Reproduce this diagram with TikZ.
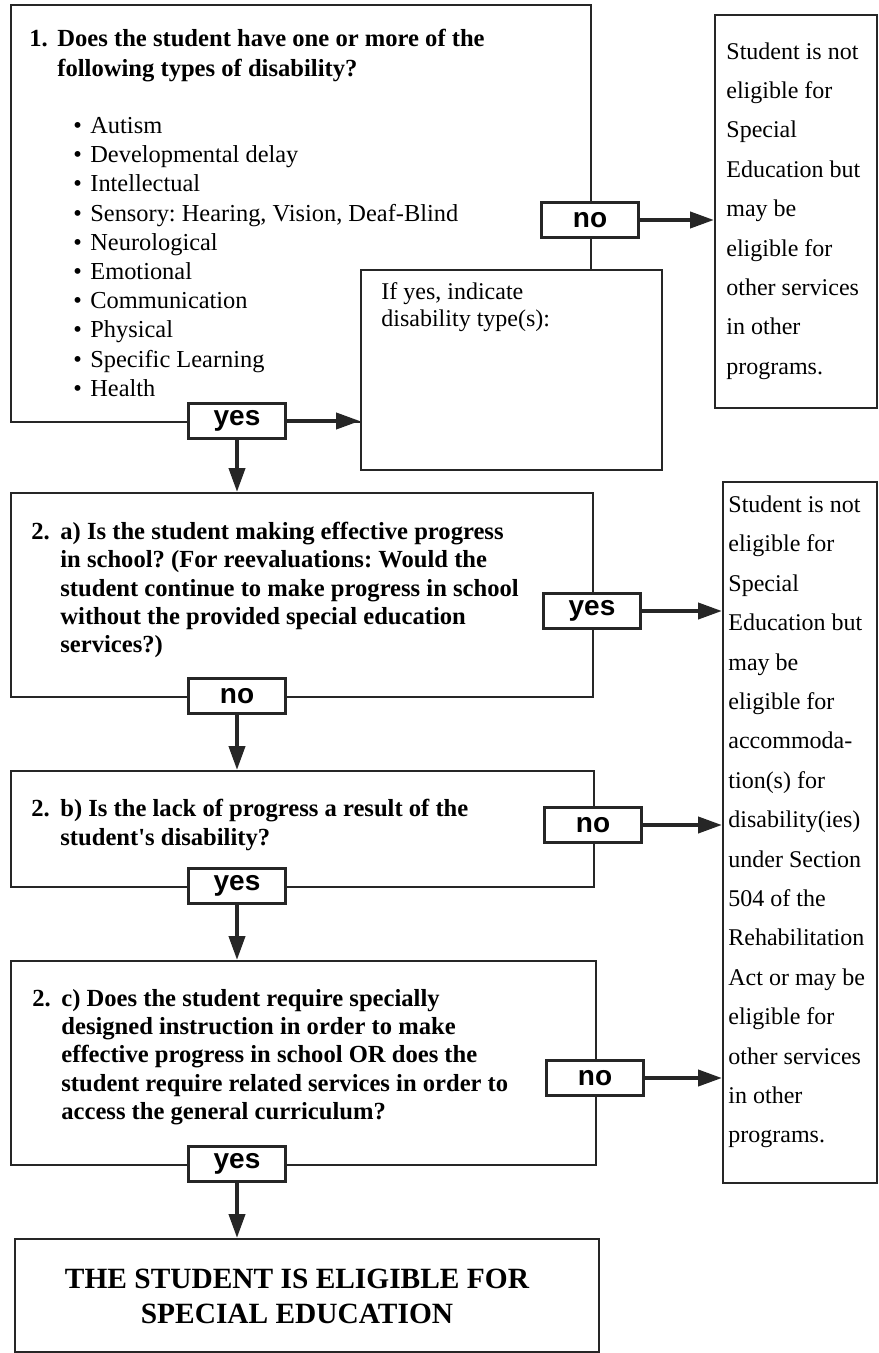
\documentclass[tikz,border=0pt]{standalone}
\usepackage{fontspec}
\setmainfont{Liberation Serif}
\newfontfamily\answerfont{Liberation Sans}
\usetikzlibrary{arrows.meta}

\newcommand{\disbullet}{\makebox[8.5pt][l]{\textbullet}}
\frenchspacing

\begin{document}
\begin{tikzpicture}[x=0.5pt, y=-0.5pt,
    box/.style={draw=black!85, line width=1pt, fill=white, inner sep=0pt, anchor=north west},
    question/.style={align=left, inner sep=0pt, anchor=west, font=\bfseries\fontsize{12.3}{14.2}\selectfont},
    listing/.style={align=left, inner sep=0pt, anchor=west, font=\fontsize{12.2}{14.6}\selectfont},
    outcome/.style={align=left, inner sep=0pt, anchor=west, font=\fontsize{12}{19.7}\selectfont},
    answer/.style={draw=black!85, line width=1.2pt, fill=white, inner sep=0pt, minimum width=48.5pt, minimum height=17.5pt, font=\answerfont\bfseries\fontsize{14}{14}\selectfont},
    flow/.style={draw=black!85, line width=2pt, -{Triangle[length=12pt, width=8pt]}}]

  \useasboundingbox (0,0) rectangle (878,1353);

  \begin{scope}
    \node[box, minimum width=290pt, minimum height=208.5pt] (q1) at (10,4) {};
    \node[box, minimum width=150.5pt, minimum height=100pt] (ifyes) at (360,269) {};
    \node[box, minimum width=81pt, minimum height=196.5pt] (side1) at (714,14) {};
    \node[box, minimum width=291pt, minimum height=102pt] (q2a) at (10,492) {};
    \node[box, minimum width=291.5pt, minimum height=58pt] (q2b) at (10,770) {};
    \node[box, minimum width=292.5pt, minimum height=102pt] (q2c) at (10,960) {};
    \node[box, minimum width=77pt, minimum height=350.5pt] (side2) at (722,481) {};
    \node[box, minimum width=292pt, minimum height=56.5pt] (final) at (14,1238) {};

    \node[question, font=\bfseries\fontsize{12.3}{15}\selectfont] (q1text) at (29,56)
      {\makebox[14pt][l]{1.}Does the student have one or more of the\\
       \hspace*{14pt}following types of disability?};
    \node[listing] (types) at (73,257)
      {\disbullet Autism\\
       \disbullet Developmental delay\\
       \disbullet Intellectual\\
       \disbullet Sensory: Hearing, Vision, Deaf-Blind\\
       \disbullet Neurological\\
       \disbullet Emotional\\
       \disbullet Communication\\
       \disbullet Physical\\
       \disbullet Specific Learning\\
       \disbullet Health};
    \node[align=left, inner sep=0pt, anchor=west, font=\fontsize{12}{13.5}\selectfont] (ifyestext) at (381,307)
      {If yes, indicate\\disability type(s):};
    \node[outcome] (side1text) at (726,211)
      {Student is not\\eligible for\\Special\\Education but\\may be\\eligible for\\other services\\in other\\programs.};

    \node[question] (q2atext) at (31,590)
      {\makebox[14.5pt][l]{2.}a) Is the student making effective progress\\
       \hspace*{14.5pt}in school? (For reevaluations: Would the\\
       \hspace*{14.5pt}student continue to make progress in school\\
       \hspace*{14.5pt}without the provided special education\\
       \hspace*{14.5pt}services?)};
    \node[question] (q2btext) at (31,825)
      {\makebox[14.5pt][l]{2.}b) Is the lack of progress a result of the\\
       \hspace*{14.5pt}student\textquotesingle s disability?};
    \node[question] (q2ctext) at (32,1057)
      {\makebox[14.5pt][l]{2.}c) Does the student require specially\\
       \hspace*{14.5pt}designed instruction in order to make\\
       \hspace*{14.5pt}effective progress in school OR does the\\
       \hspace*{14.5pt}student require related services in order to\\
       \hspace*{14.5pt}access the general curriculum?};
    \node[outcome] (side2text) at (728,822)
      {Student is not\\eligible for\\Special\\Education but\\may be\\eligible for\\accommoda-\\tion(s) for\\disability(ies)\\under Section\\504 of the\\Rehabilitation\\Act or may be\\eligible for\\other services\\in other\\programs.};
    \node[align=center, inner sep=0pt, font=\bfseries\fontsize{14.7}{17.5}\selectfont] (verdict) at (297,1296)
      {THE STUDENT IS ELIGIBLE FOR\\SPECIAL EDUCATION};

    \node[answer] (no1) at (590,220) {no};
    \node[answer] (yes1) at (237,421) {yes};
    \node[answer] (yes2a) at (592,611) {yes};
    \node[answer] (no2a) at (237,696) {no};
    \node[answer] (no2b) at (593,825) {no};
    \node[answer] (yes2b) at (237,886) {yes};
    \node[answer] (no2c) at (595,1078) {no};
    \node[answer] (yes2c) at (237,1164) {yes};

    \draw[flow] (no1.east) -- (no1.east -| side1.west);
    \draw[flow] (yes1.east) -- (yes1.east -| ifyes.west);
    \draw[flow] (yes1.south) -- (yes1.south |- q2a.north);
    \draw[flow] (yes2a.east) -- (yes2a.east -| side2.west);
    \draw[flow] (no2a.south) -- (no2a.south |- q2b.north);
    \draw[flow] (no2b.east) -- (no2b.east -| side2.west);
    \draw[flow] (yes2b.south) -- (yes2b.south |- q2c.north);
    \draw[flow] (no2c.east) -- (no2c.east -| side2.west);
    \draw[flow] (yes2c.south) -- (yes2c.south |- final.north);
  \end{scope}
\end{tikzpicture}
\end{document}
